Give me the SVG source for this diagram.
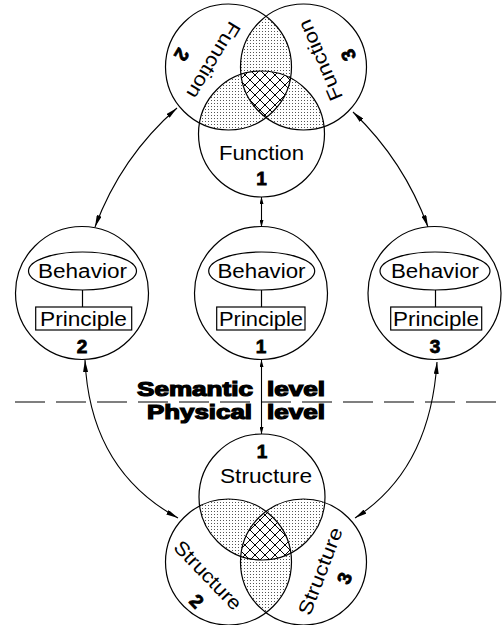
<svg xmlns="http://www.w3.org/2000/svg" width="502" height="625" viewBox="0 0 502 625">
<style>
.c{fill:none;stroke:#000;stroke-width:1.2}
.t{font-family:"Liberation Sans",Arial,sans-serif;font-size:19.5px;fill:#000}
.n{font-family:"Liberation Sans",Arial,sans-serif;font-size:19px;font-weight:bold;fill:#000;stroke:#000;stroke-width:0.8}
.h{font-family:"Liberation Sans",Arial,sans-serif;font-size:19.5px;font-weight:bold;fill:#000;stroke:#000;stroke-width:1.2}
.a{fill:none;stroke:#000;stroke-width:1.1}
</style>
<defs>
<pattern id="dots" width="3" height="3" patternUnits="userSpaceOnUse"><rect x="1" y="1" width="1" height="1" fill="#555"/></pattern>
<pattern id="cross" width="10" height="10" patternUnits="userSpaceOnUse"><rect width="10" height="10" fill="#fff"/><path d="M-1,-1L11,11M11,-1L-1,11" stroke="#000" stroke-width="1"/></pattern>
<marker id="ah" viewBox="0 0 12 5" refX="12" refY="2.5" markerWidth="12" markerHeight="5" markerUnits="userSpaceOnUse" orient="auto-start-reverse"><path d="M0,0L12,2.5L0,5z" fill="#000"/></marker>
<marker id="as" viewBox="0 0 7 4" refX="7" refY="2" markerWidth="7" markerHeight="4" markerUnits="userSpaceOnUse" orient="auto-start-reverse"><path d="M0,0L7,2L0,4z" fill="#000"/></marker>
<clipPath id="cF1"><circle cx="261.5" cy="134" r="63"/></clipPath>
<clipPath id="cF2"><circle cx="228.5" cy="67" r="63"/></clipPath>
<clipPath id="cF3"><circle cx="303.5" cy="67" r="63"/></clipPath>
<clipPath id="cS1"><circle cx="262" cy="497" r="63"/></clipPath>
<clipPath id="cS2"><circle cx="228.5" cy="562" r="63"/></clipPath>
<clipPath id="cS3"><circle cx="303.5" cy="562" r="63"/></clipPath>
</defs>

<g id="function-venn">
<circle cx="228.5" cy="67" r="63" fill="url(#dots)" clip-path="url(#cF3)"/>
<circle cx="261.5" cy="134" r="63" fill="url(#dots)" clip-path="url(#cF2)"/>
<circle cx="261.5" cy="134" r="63" fill="url(#dots)" clip-path="url(#cF3)"/>
<g clip-path="url(#cF3)"><circle cx="261.5" cy="134" r="63" fill="url(#cross)" clip-path="url(#cF2)"/></g>
<g id="function1"><circle class="c" cx="261.5" cy="134" r="63"/>
<text class="t" x="261.5" y="160" text-anchor="middle" textLength="85" lengthAdjust="spacingAndGlyphs">Function</text>
<text class="n" x="261.5" y="185" text-anchor="middle" font-size="20">1</text></g>
<g id="function2"><circle class="c" cx="228.5" cy="67" r="63"/>
<text class="t" transform="translate(213,60) rotate(121)" y="6" text-anchor="middle" textLength="86" lengthAdjust="spacingAndGlyphs">Function</text>
<text class="n" transform="translate(182,55) rotate(121)" y="7" text-anchor="middle" font-size="20">2</text></g>
<g id="function3"><circle class="c" cx="303.5" cy="67" r="63"/>
<text class="t" transform="translate(321,60) rotate(-113)" y="6" text-anchor="middle" textLength="86" lengthAdjust="spacingAndGlyphs">Function</text>
<text class="n" transform="translate(348,55) rotate(-113)" y="7" text-anchor="middle" font-size="20">3</text></g>
</g>

<g id="bp2"><circle class="c" cx="82" cy="293" r="66.5"/>
<ellipse class="c" cx="82.5" cy="271" rx="54" ry="19"/>
<line class="c" x1="82.5" y1="290" x2="82.5" y2="307"/>
<rect class="c" x="35.7" y="307" width="96" height="23"/>
<text class="t" x="82.5" y="277.5" text-anchor="middle" textLength="89" lengthAdjust="spacingAndGlyphs">Behavior</text>
<text class="t" x="83.5" y="325.5" text-anchor="middle" textLength="87" lengthAdjust="spacingAndGlyphs">Principle</text>
<text class="n" x="82" y="353" text-anchor="middle" font-size="17.5">2</text></g>

<g id="bp1"><circle class="c" cx="261" cy="293" r="66.5"/>
<ellipse class="c" cx="261.7" cy="271" rx="53" ry="19"/>
<line class="c" x1="261.5" y1="290" x2="261.5" y2="307"/>
<rect class="c" x="216.7" y="307" width="88.3" height="23"/>
<text class="t" x="261.5" y="277.5" text-anchor="middle" textLength="88" lengthAdjust="spacingAndGlyphs">Behavior</text>
<text class="t" x="261" y="325.5" text-anchor="middle" textLength="84" lengthAdjust="spacingAndGlyphs">Principle</text>
<text class="n" x="261" y="353" text-anchor="middle" font-size="17.5">1</text></g>

<g id="bp3"><circle class="c" cx="434.5" cy="293" r="66.5"/>
<ellipse class="c" cx="435" cy="271" rx="55" ry="19"/>
<line class="c" x1="435.5" y1="290" x2="435.5" y2="307"/>
<rect class="c" x="390.7" y="307" width="91" height="23"/>
<text class="t" x="435" y="277.5" text-anchor="middle" textLength="88" lengthAdjust="spacingAndGlyphs">Behavior</text>
<text class="t" x="436" y="325.5" text-anchor="middle" textLength="86" lengthAdjust="spacingAndGlyphs">Principle</text>
<text class="n" x="435" y="353" text-anchor="middle" font-size="17.5">3</text></g>

<g id="structure-venn">
<circle cx="262" cy="497" r="63" fill="url(#dots)" clip-path="url(#cS2)"/>
<circle cx="262" cy="497" r="63" fill="url(#dots)" clip-path="url(#cS3)"/>
<circle cx="228.5" cy="562" r="63" fill="url(#dots)" clip-path="url(#cS3)"/>
<g clip-path="url(#cS3)"><circle cx="262" cy="497" r="63" fill="url(#cross)" clip-path="url(#cS2)"/></g>
<g id="structure1"><circle class="c" cx="262" cy="497" r="63"/>
<text class="n" x="262" y="458" text-anchor="middle" font-size="20">1</text>
<text class="t" x="266" y="483" text-anchor="middle" textLength="92" lengthAdjust="spacingAndGlyphs">Structure</text></g>
<g id="structure2"><circle class="c" cx="228.5" cy="562" r="63"/>
<text class="t" transform="translate(208,575) rotate(46)" y="7" text-anchor="middle" textLength="88" lengthAdjust="spacingAndGlyphs">Structure</text>
<text class="n" transform="translate(197,601) rotate(46)" y="7" text-anchor="middle" font-size="20">2</text></g>
<g id="structure3"><circle class="c" cx="303.5" cy="562" r="63"/>
<text class="t" transform="translate(320,571) rotate(-69)" y="7" text-anchor="middle" textLength="92" lengthAdjust="spacingAndGlyphs">Structure</text>
<text class="n" transform="translate(344,578) rotate(-69)" y="7" text-anchor="middle" font-size="20">3</text></g>
</g>

<g id="levels">
<line x1="15" y1="402" x2="502" y2="402" stroke="#000" stroke-width="1.2" stroke-dasharray="30 11"/>
<text class="h" x="137" y="396" textLength="116" lengthAdjust="spacingAndGlyphs">Semantic</text>
<text class="h" x="267" y="396" textLength="58" lengthAdjust="spacingAndGlyphs">level</text>
<text class="h" x="147" y="419" textLength="105" lengthAdjust="spacingAndGlyphs">Physical</text>
<text class="h" x="267" y="419" textLength="58" lengthAdjust="spacingAndGlyphs">level</text>
</g>

<g id="connectors">
<path class="a" d="M177,108 Q121,157 95,227" marker-start="url(#ah)" marker-end="url(#ah)"/>
<path class="a" d="M353,112 Q404,161 428,227" marker-start="url(#ah)" marker-end="url(#ah)"/>
<path class="a" d="M85,360 Q90,470 178,518" marker-start="url(#ah)" marker-end="url(#ah)"/>
<path class="a" d="M437,362 Q430,470 355,518" marker-start="url(#ah)" marker-end="url(#ah)"/>
<path class="a" d="M261.5,197 L261.5,227" marker-start="url(#as)" marker-end="url(#as)"/>
<path class="a" d="M261.5,360 L261.5,434" marker-start="url(#as)" marker-end="url(#as)"/>
</g>
</svg>
